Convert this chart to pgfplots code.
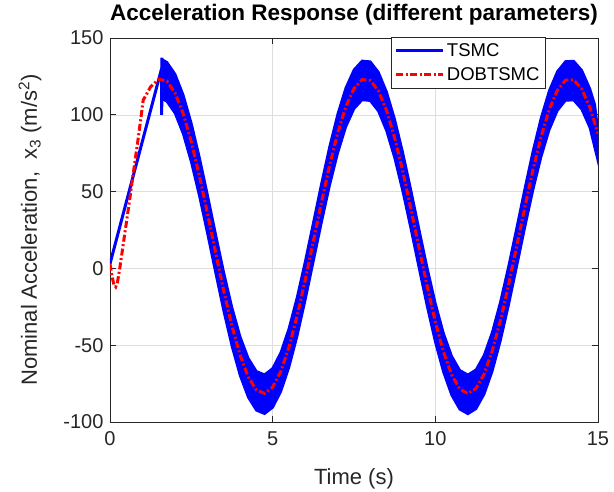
\documentclass[border=0pt]{standalone}
\usepackage{fontspec}
\setmainfont{Liberation Sans}
\usepackage{pgfplots}
\pgfplotsset{compat=1.18}
\definecolor{axgray}{rgb}{0.15,0.15,0.15}
\definecolor{gridgray}{rgb}{0.87,0.87,0.87}
\begin{document}
\begin{tikzpicture}
\begin{axis}[
  scale only axis,
  width=488pt, height=384pt,
  xmin=0, xmax=15, ymin=-100, ymax=150,
  xtick={0,5,10,15}, ytick={-100,-50,0,50,100,150},
  /pgf/number format/assume math mode=true,
  axis line style={axgray, line width=0.8pt},
  every tick/.style={axgray, line width=0.8pt},
  major tick length=6pt,
  grid=major,
  major grid style={gridgray, line width=0.6pt},
  tick label style={font=\fontsize{20}{24}\selectfont, text=axgray},
  xticklabel style={yshift=-6pt},
  yticklabel style={xshift=-3pt},
  xlabel={Time (s)},
  ylabel={Nominal Acceleration,\ \ x\textsubscript{3} (m/s\textsuperscript{2})},
  label style={font=\fontsize{22}{26}\selectfont, text=axgray},
  xlabel style={at={(axis description cs:0.5,-0.164)}, anchor=base},
  ylabel style={at={(axis description cs:-0.1496,0.5)}, anchor=base, rotate=0},
  title={Acceleration Response (different parameters)},
  title style={at={(axis description cs:0.5,1.0294)}, anchor=base, font=\bfseries\fontsize{22.5}{26}\selectfont},
  legend style={at={(0.893,1.003)}, anchor=north east, draw=axgray, line width=0.6pt, fill=white,
    font=\fontsize{18.5}{22}\selectfont, inner sep=4pt, row sep=6pt,
    nodes={inner sep=2pt}},
  legend cell align=left,
  legend image code/.code={\draw[#1] (0pt,0pt) -- (47pt,0pt);},
]
% TSMC initial rise and spike
\addplot[blue, line width=3pt] coordinates {
 (0,3) (1.585,130) (1.59,100) (1.595,137)
};
\addlegendentry{TSMC}
% TSMC chattering band: upper edge then lower edge (reversed)
\addplot[blue, fill=blue, line width=2.5pt, forget plot] coordinates {
 (1.60,136.0) (1.75,134.2) (2.00,126.5) (2.25,113.0) (2.50,94.5) (2.75,72.3)
 (3.00,47.7) (3.25,22.1) (3.50,-2.8) (3.75,-25.4) (4.00,-44.4) (4.25,-58.5)
 (4.50,-67.0) (4.75,-69.2) (5.00,-65.1) (5.25,-54.8) (5.50,-39.1) (5.75,-18.9)
 (6.00,4.6) (6.25,29.8) (6.50,55.2) (6.75,79.3) (7.00,100.5) (7.25,117.6)
 (7.50,129.3) (7.75,135.1) (8.00,134.6) (8.25,127.8) (8.50,115.0) (8.75,97.2)
 (9.00,75.4) (9.25,51.0) (9.50,25.5) (9.75,0.5) (10.00,-22.6) (10.25,-42.1)
 (10.50,-57.0) (10.75,-66.3) (11.00,-69.3) (11.25,-66.0) (11.50,-56.5) (11.75,-41.5)
 (12.00,-21.8) (12.25,1.3) (12.50,26.4) (12.75,51.9) (13.00,76.3) (13.25,97.9)
 (13.50,115.6) (13.75,128.1) (14.00,134.7) (14.25,135.0) (14.50,129.0) (14.75,117.0)
 (14.90,106.7) (15.00,90.0)
 (15.00,70.0) (14.75,91.6) (14.50,103.6) (14.25,109.6) (14.00,109.3) (13.75,102.7)
 (13.50,90.2) (13.25,72.5) (13.00,50.9) (12.75,26.5) (12.50,1.0) (12.25,-24.1)
 (12.00,-47.2) (11.75,-66.9) (11.50,-81.9) (11.25,-91.4) (11.00,-94.7) (10.75,-91.7)
 (10.50,-82.4) (10.25,-67.5) (10.00,-48.0) (9.75,-24.9) (9.50,0.1) (9.25,25.6)
 (9.00,50.0) (8.75,71.8) (8.50,89.6) (8.25,102.4) (8.00,109.2) (7.75,109.7)
 (7.50,103.9) (7.25,92.2) (7.00,75.1) (6.75,53.9) (6.50,29.8) (6.25,4.4)
 (6.00,-20.8) (5.75,-44.3) (5.50,-64.5) (5.25,-80.2) (5.00,-90.5) (4.75,-94.6)
 (4.50,-92.4) (4.25,-83.9) (4.00,-69.8) (3.75,-50.8) (3.50,-28.2) (3.25,-3.3)
 (3.00,22.3) (2.75,46.9) (2.50,69.1) (2.25,87.6) (2.00,101.0) (1.75,108.7)
 (1.60,110.3)
} -- cycle;
% DOBTSMC
\addplot[red, line width=3pt, dash pattern=on 7pt off 2.5pt on 2pt off 2.5pt] coordinates {
 (0,3) (0.06,-5) (0.12,-10.5) (0.175,-12) (0.23,-9) (0.30,0) (0.45,22) (0.60,44)
 (0.716,62) (0.85,82) (0.95,98) (1.02,109.6) (1.10,112.5) (1.25,118.3) (1.50,123.2)
 (1.75,121.9) (2.00,114.2) (2.25,100.8) (2.50,82.3) (2.75,60.1) (3.00,35.5)
 (3.25,9.9) (3.50,-15.0) (3.75,-37.6) (4.00,-56.6) (4.25,-70.7) (4.50,-79.2)
 (4.75,-81.4) (5.00,-77.3) (5.25,-67.0) (5.50,-51.3) (5.75,-31.1) (6.00,-7.6)
 (6.25,17.6) (6.50,43.0) (6.75,67.1) (7.00,88.3) (7.25,105.4) (7.50,117.1)
 (7.75,122.9) (8.00,122.4) (8.25,115.6) (8.50,102.8) (8.75,85.0) (9.00,63.2)
 (9.25,38.8) (9.50,13.3) (9.75,-11.7) (10.00,-34.8) (10.25,-54.3) (10.50,-69.2)
 (10.75,-78.5) (11.00,-81.5) (11.25,-78.2) (11.50,-68.7) (11.75,-53.7) (12.00,-34.0)
 (12.25,-10.9) (12.50,14.2) (12.75,39.7) (13.00,64.1) (13.25,85.7) (13.50,103.4)
 (13.75,115.9) (14.00,122.5) (14.25,122.8) (14.50,116.8) (14.75,104.8) (15.00,87.7)
};
\addlegendentry{DOBTSMC}
\end{axis}
\pgfresetboundingbox
\path (current axis.south west) ++(-110pt,-69pt) rectangle ++(614pt,491pt);
\end{tikzpicture}
\end{document}
